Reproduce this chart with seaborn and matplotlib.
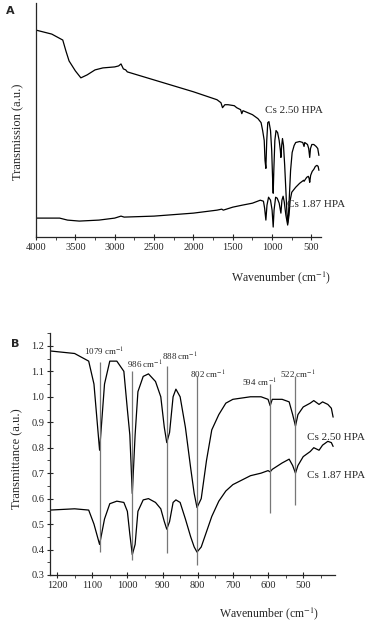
import matplotlib
matplotlib.use("Agg")
import matplotlib.pyplot as plt
import seaborn as sns
import numpy as np
from matplotlib.ticker import MultipleLocator

# Panel A: full range spectra (arbitrary units)
wn_a_250 = [4000, 3800, 3660, 3620, 3580, 3500, 3430, 3350, 3250, 3150, 3000, 2950, 2920, 2890,
            2860, 2840, 2000, 1700, 1650, 1630, 1600, 1560, 1480, 1450, 1400, 1385, 1370, 1250,
            1180, 1140, 1120, 1100, 1090, 1079, 1068, 1055, 1040, 1020, 1005, 995, 986, 978,
            965, 950, 930, 910, 895, 888, 878, 868, 855, 840, 825, 812, 802, 792, 780, 765,
            745, 720, 700, 650, 610, 594, 585, 550, 535, 522, 512, 495, 470, 440, 420, 405]
tr_a_250 = [208, 204, 198, 187, 177, 167, 160, 163, 168, 170, 171, 172, 174, 169,
            168, 166, 146, 138, 135, 130, 133, 133, 132, 130, 128, 124, 127, 123,
            119, 115, 107, 97, 77, 69, 97, 115, 116, 107, 87, 62, 44, 67,
            97, 107, 105, 97, 87, 80, 92, 99, 92, 72, 47, 25, 14, 22, 42, 67,
            85, 92, 95, 96, 95, 91, 95, 93, 89, 80, 89, 93, 93, 91, 89, 82]

wn_a_187 = [4000, 3700, 3600, 3450, 3200, 3000, 2920, 2880, 2500, 2000, 1800, 1700, 1640, 1620,
            1500, 1380, 1250, 1150, 1110, 1095, 1079, 1065, 1045, 1020, 1000, 986, 975, 955,
            935, 910, 888, 875, 860, 845, 825, 802, 785, 770, 750, 700, 650, 600, 594, 560,
            540, 530, 522, 510, 490, 470, 450, 430, 415, 405]
tr_a_187 = [19, 19, 17, 16, 17, 19, 21, 20, 21, 24, 26, 27, 28, 27,
            30, 32, 34, 37, 36, 29, 17, 32, 40, 37, 27, 10, 27, 40,
            39, 34, 24, 37, 41, 35, 22, 12, 22, 37, 45, 50, 54, 57, 56, 60,
            61, 59, 55, 62, 66, 68, 71, 72, 71, 67]

# Panel B: fingerprint region
wn_b = [1220, 1150, 1110, 1095, 1079, 1065, 1050, 1030, 1010, 1000, 993, 986, 978, 970,
        955, 940, 920, 905, 895, 888, 880, 870, 862, 850, 835, 820, 810, 802, 790, 775,
        760, 740, 720, 700, 650, 620, 600, 594, 588, 560, 540, 530, 522, 515, 500, 480,
        470, 455, 445, 430, 420, 415]
tr_b_250 = [1.18, 1.17, 1.14, 1.05, 0.79, 1.05, 1.14, 1.14, 1.10, 0.95, 0.85, 0.62, 0.85, 1.02,
            1.08, 1.09, 1.06, 1.00, 0.88, 0.82, 0.86, 1.00, 1.03, 1.00, 0.88, 0.72, 0.62, 0.565, 0.60, 0.75,
            0.87, 0.93, 0.975, 0.99, 1.00, 1.00, 0.99, 0.965, 0.99, 0.99, 0.98, 0.93, 0.885, 0.93, 0.96, 0.975,
            0.985, 0.97, 0.98, 0.97, 0.955, 0.92]
tr_b_187 = [0.555, 0.56, 0.555, 0.50, 0.42, 0.52, 0.58, 0.59, 0.585, 0.55, 0.46, 0.38, 0.42, 0.55,
            0.595, 0.60, 0.585, 0.56, 0.51, 0.48, 0.51, 0.585, 0.595, 0.585, 0.52, 0.45, 0.41, 0.39, 0.41, 0.47,
            0.53, 0.59, 0.63, 0.655, 0.69, 0.70, 0.71, 0.705, 0.715, 0.74, 0.755, 0.73, 0.70, 0.73, 0.765, 0.785,
            0.80, 0.79, 0.81, 0.825, 0.82, 0.805]

peaks = [1079, 986, 888, 802, 594, 522]
peak_lo = [0.39, 0.36, 0.385, 0.34, 0.545, 0.575]
peak_hi = [1.135, 1.10, 1.12, 1.08, 1.05, 1.08]
peak_lab_x = [1067, 950, 850, 770, 625, 516]
peak_lab_y = [1.176, 1.125, 1.157, 1.086, 1.055, 1.086]

sns.set_style("ticks")
plt.rcParams['font.family'] = ['Liberation Serif', 'DejaVu Serif']
plt.rcParams['mathtext.fontset'] = 'stix'

fig = plt.figure(figsize=(3.69, 6.25), dpi=100)
axA = fig.add_axes([0.0976, 0.6208, 0.772, 0.374])
axB = fig.add_axes([0.1355, 0.08, 0.772, 0.387])

# ---- panel A
sns.lineplot(x=wn_a_250, y=tr_a_250, ax=axA, color='black', lw=0.9, estimator=None)
sns.lineplot(x=wn_a_187, y=tr_a_187, ax=axA, color='black', lw=0.9, estimator=None)
axA.set_xlim(4000, 380)
axA.set_ylim(0, 235)
axA.set_yticks([])
axA.xaxis.set_major_locator(MultipleLocator(500))
axA.xaxis.set_minor_locator(MultipleLocator(250))
axA.set_xlabel(r'Wavenumber (cm$^{-1}$)', fontsize=8.5)
axA.xaxis.set_label_coords(0.86, -0.14)
axA.set_ylabel('Transmission (a.u.)', fontsize=9)
axA.yaxis.set_label_coords(-0.04, 0.45)
axA.text(1090, 127, 'Cs 2.50 HPA', fontsize=8, va='center', ha='left')
axA.text(810, 33, 'Cs 1.87 HPA', fontsize=8, va='center', ha='left')

# ---- panel B
sns.lineplot(x=wn_b, y=tr_b_250, ax=axB, color='black', lw=0.9, estimator=None)
sns.lineplot(x=wn_b, y=tr_b_187, ax=axB, color='black', lw=0.9, estimator=None)
axB.vlines(peaks, peak_lo, peak_hi, color='#777777', lw=0.9)
for px, lx, ly in zip(peaks, peak_lab_x, peak_lab_y):
    axB.text(lx, ly, f'{px} cm$^{{-1}}$', fontsize=6.5, ha='center', va='center')
axB.xaxis.set_major_locator(MultipleLocator(100))
axB.xaxis.set_minor_locator(MultipleLocator(50))
axB.yaxis.set_minor_locator(MultipleLocator(0.05))
axB.set_yticks(np.arange(0.3, 1.21, 0.1))
axB.set_xlim(1220, 410)
axB.set_ylim(0.3, 1.25)
axB.set_xlabel(r'Wavenumber (cm$^{-1}$)', fontsize=8.5)
axB.xaxis.set_label_coords(0.77, -0.125)
axB.set_ylabel('Transmittance (a.u.)', fontsize=9)
axB.yaxis.set_label_coords(-0.095, 0.48)
axB.text(490, 0.84, 'Cs 2.50 HPA', fontsize=8, va='center', ha='left', clip_on=False)
axB.text(490, 0.69, 'Cs 1.87 HPA', fontsize=8, va='center', ha='left', clip_on=False)

for ax in (axA, axB):
    sns.despine(ax=ax)
    ax.tick_params(which='major', direction='inout', length=4, width=0.8, labelsize=7.5, pad=2)
    ax.tick_params(which='minor', direction='out', length=2, width=0.6)
    for s in ('left', 'bottom'):
        ax.spines[s].set_linewidth(0.9)

fig.text(0.015, 0.982, 'A', fontsize=8, fontweight='bold', family='DejaVu Sans', va='center')
fig.text(0.03, 0.449, 'B', fontsize=8, fontweight='bold', family='DejaVu Sans', va='center')

fig.savefig('out.png', dpi=100)
